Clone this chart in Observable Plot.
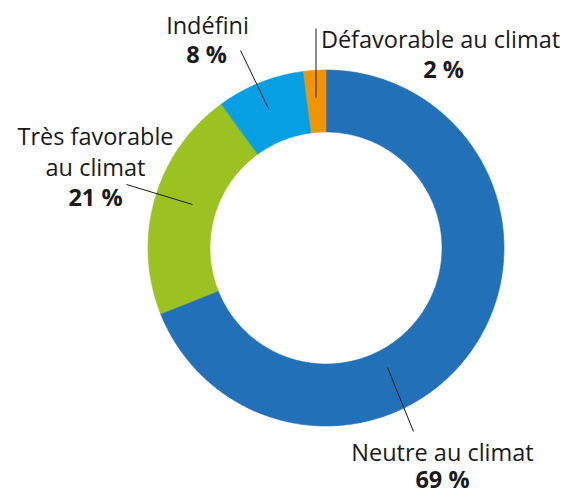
<!DOCTYPE html>
<html>
<head>
<meta charset="utf-8">
<script src="https://cdn.jsdelivr.net/npm/d3@7"></script>
<script src="https://cdn.jsdelivr.net/npm/@observablehq/plot@0.6"></script>
<style>
  html, body { margin: 0; padding: 0; background: #fff; }
  #chart svg { display: block; }
</style>
</head>
<body>
<div id="chart"></div>
<script>
// ---- data ----
const categories = ["Neutre au climat", "Très favorable au climat", "Indéfini", "Défavorable au climat"];
const labelNames = ["Neutre au climat", "Très favorable\nau climat", "Indéfini", "Défavorable au climat"];
const values = [69, 21, 8, 2];
const colors = ["#2271b8", "#9bc220", "#06a0e2", "#f29400"];

// ---- layout (pixel space) ----
const W = 568, H = 490;
const cx = 326, cy = 248, R = 178, r0 = 116;
// x: text centre, y: baseline of last name line, py: baseline of percent
const labelPos = [
  {x: 442, y: 460, px: 442, py: 487, lx1: 387, ly1: 367, lx2: 413, ly2: 431},
  {x: 95, y: 175, px: 95, py: 205, lx1: 126, ly1: 184, lx2: 192, ly2: 204},
  {x: 207, y: 33, px: 206, py: 62, lx1: 240, ly1: 50, lx2: 268, ly2: 108},
  {x: 440, y: 47, px: 443, py: 77, lx1: 315.5, ly1: 28, lx2: 315.5, ly2: 97}
];

// build ring segments from values
const total = d3.sum(values);
const ring = [];
let acc = 0;
values.forEach((v, i) => {
  const a0 = acc / total * 2 * Math.PI;
  acc += v;
  const a1 = acc / total * 2 * Math.PI;
  const n = Math.max(4, Math.ceil((a1 - a0) / 0.01));
  for (let k = 0; k <= n; k++) {
    const a = a0 + (a1 - a0) * k / n;
    ring.push({
      cat: categories[i],
      xo: cx + R * Math.sin(a), yo: cy - R * Math.cos(a),
      xi: cx + r0 * Math.sin(a), yi: cy - r0 * Math.cos(a)
    });
  }
});

const labels = categories.map((c, i) => ({
  cat: c, name: labelNames[i], pct: values[i] + " %", ...labelPos[i]
}));

const font = "'Open Sans', 'Liberation Sans', Arial, sans-serif";

const chart = Plot.plot({
  width: W, height: H,
  margin: 0,
  x: {domain: [0, W], range: [0, W], axis: null},
  y: {domain: [0, H], range: [0, H], axis: null},
  color: {domain: categories, range: colors},
  style: {fontFamily: font, background: "#fff"},
  marks: [
    Plot.area(ring, {x1: "xo", y1: "yo", x2: "xi", y2: "yi", z: "cat", fill: "cat", stroke: "cat", strokeWidth: 0.6}),
    Plot.link(labels, {x1: "lx1", y1: "ly1", x2: "lx2", y2: "ly2", stroke: "#1a1a1a", strokeWidth: 1}),
    Plot.text(labels, {x: "x", y: "y", text: "name", fontSize: 23.5, fontWeight: 500, lineHeight: 1.3, textAnchor: "middle", lineAnchor: "bottom", fill: "#1a1a1a"}),
    Plot.text(labels, {x: "px", y: "py", text: "pct", fontSize: 23.5, fontWeight: "bold", textAnchor: "middle", lineAnchor: "bottom", fill: "#1a1a1a"})
  ]
});
document.getElementById("chart").appendChild(chart);
</script>
</body>
</html>
